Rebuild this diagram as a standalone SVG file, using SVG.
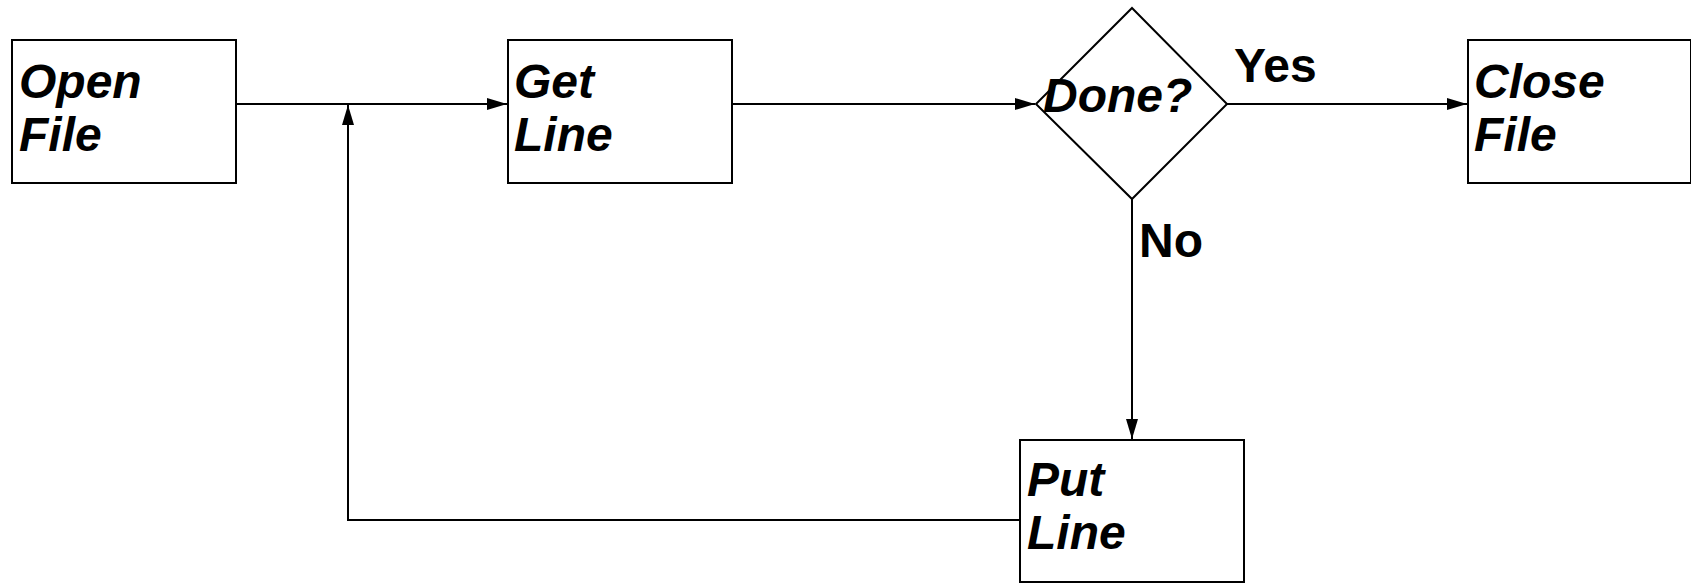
<svg xmlns="http://www.w3.org/2000/svg" width="1691" height="583" viewBox="0 0 1691 583">
<style>
.box{fill:#fff;stroke:#000;stroke-width:2}
.lbl{font-family:"Liberation Sans",Arial,sans-serif;font-weight:bold;font-style:italic;font-size:48px;fill:#000}
.edge{fill:none;stroke:#000;stroke-width:2}
.el{font-family:"Liberation Sans",Arial,sans-serif;font-weight:bold;font-size:48px;fill:#000}
</style>
<defs>
<marker id="ah" markerUnits="userSpaceOnUse" markerWidth="20" markerHeight="12" refX="20" refY="6" orient="auto">
<path d="M0,0 L20,6 L0,12 z" fill="#000"/>
</marker>
</defs>
<rect width="1691" height="583" fill="#fff"/>
<g id="connectors">
<line class="edge" x1="236" y1="104" x2="507" y2="104" marker-end="url(#ah)"/>
<line class="edge" x1="732" y1="104" x2="1035" y2="104" marker-end="url(#ah)"/>
<line class="edge" x1="1227" y1="104" x2="1467" y2="104" marker-end="url(#ah)"/>
<line class="edge" x1="1132" y1="199" x2="1132" y2="439" marker-end="url(#ah)"/>
<polyline class="edge" points="1020,520 348,520 348,105" marker-end="url(#ah)"/>
<text class="el" x="1234" y="82">Yes</text>
<text class="el" x="1139" y="257">No</text>
</g>
<g id="open-file">
<rect class="box" x="12" y="40" width="224" height="143"/>
<text class="lbl" x="19" y="98">Open</text>
<text class="lbl" x="19" y="151">File</text>
</g>
<g id="get-line">
<rect class="box" x="508" y="40" width="224" height="143"/>
<text class="lbl" x="514" y="98">Get</text>
<text class="lbl" x="514" y="151">Line</text>
</g>
<g id="done">
<polygon class="box" points="1132,8 1227,104 1132,199 1036,104"/>
<text class="lbl" x="1043" y="112">Done?</text>
</g>
<g id="close-file">
<rect class="box" x="1468" y="40" width="223" height="143"/>
<text class="lbl" x="1474" y="98">Close</text>
<text class="lbl" x="1474" y="151">File</text>
</g>
<g id="put-line">
<rect class="box" x="1020" y="440" width="224" height="142"/>
<text class="lbl" x="1027" y="496">Put</text>
<text class="lbl" x="1027" y="549">Line</text>
</g>
</svg>
